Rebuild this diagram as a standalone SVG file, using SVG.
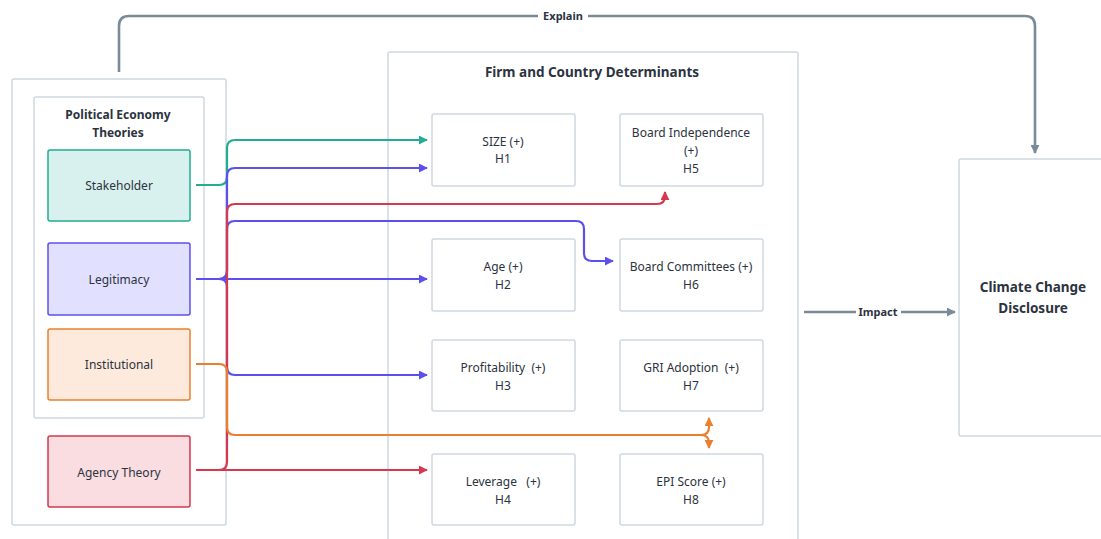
<svg xmlns="http://www.w3.org/2000/svg" width="1101" height="539" viewBox="0 0 1101 539">
<style>
text{font-family:"Noto Sans","Liberation Sans",sans-serif;fill:#2b3340;text-anchor:middle;white-space:pre}
.n{font-size:12px}
.b{font-size:12px;font-weight:bold}
.t{font-size:13.5px;font-weight:bold}
.lbl{font-size:11px;font-weight:bold}
.box{fill:#fff;stroke:#cfd8e1;stroke-width:1.5}
.c{fill:none;stroke-width:2.2}
.teal{stroke:#20ad93}
.pur{stroke:#5b50ee}
.red{stroke:#d5394f}
.ora{stroke:#e9802f}
.gray{fill:none;stroke:#7b8a98;stroke-width:2.6}
</style>
<defs>
<marker id="aT" viewBox="0 0 10 10" refX="9" refY="5" markerWidth="9" markerHeight="9" markerUnits="userSpaceOnUse" orient="auto"><path d="M0,0L10,5L0,10z" fill="#20ad93"/></marker>
<marker id="aP" viewBox="0 0 10 10" refX="9" refY="5" markerWidth="9" markerHeight="9" markerUnits="userSpaceOnUse" orient="auto"><path d="M0,0L10,5L0,10z" fill="#5b50ee"/></marker>
<marker id="aR" viewBox="0 0 10 10" refX="9" refY="5" markerWidth="9" markerHeight="9" markerUnits="userSpaceOnUse" orient="auto"><path d="M0,0L10,5L0,10z" fill="#d5394f"/></marker>
<marker id="aO" viewBox="0 0 10 10" refX="9" refY="5" markerWidth="9" markerHeight="9" markerUnits="userSpaceOnUse" orient="auto"><path d="M0,0L10,5L0,10z" fill="#e9802f"/></marker>
<marker id="aG" viewBox="0 0 10 10" refX="9" refY="5" markerWidth="9" markerHeight="9" markerUnits="userSpaceOnUse" orient="auto"><path d="M0,0L10,5L0,10z" fill="#7b8a98"/></marker>
</defs>
<rect width="1101" height="539" fill="#fff"/>

<g id="theories-outer"><rect class="box" x="12" y="79" width="214" height="446" rx="2"/></g>
<g id="political-economy"><rect class="box" x="34" y="97" width="170" height="321" rx="2"/>
<text class="b" x="118" y="119">Political Economy</text><text class="b" x="118" y="137">Theories</text></g>
<g id="stakeholder"><rect x="48" y="150" width="142" height="71" rx="2" fill="#d8f1ee" stroke="#20ad93" stroke-width="1.5"/><text class="n" x="119" y="190">Stakeholder</text></g>
<g id="legitimacy"><rect x="48" y="243" width="142" height="72" rx="2" fill="#e1e0fe" stroke="#5b50ee" stroke-width="1.5"/><text class="n" x="119" y="284">Legitimacy</text></g>
<g id="institutional"><rect x="48" y="329" width="142" height="71" rx="2" fill="#fdeadd" stroke="#e9802f" stroke-width="1.5"/><text class="n" x="119" y="369">Institutional</text></g>
<g id="agency"><rect x="48" y="436" width="142" height="71" rx="2" fill="#f9dde1" stroke="#d5394f" stroke-width="1.5"/><text class="n" x="119" y="477">Agency Theory</text></g>

<g id="determinants"><rect class="box" x="388" y="52" width="410" height="500" rx="2"/>
<text class="t" x="592" y="77">Firm and Country Determinants</text></g>
<g id="h1"><rect class="box" x="432" y="114" width="143" height="72" rx="2"/><text class="n" x="503" y="146">SIZE (+)</text><text class="n" x="503" y="163">H1</text></g>
<g id="h5"><rect class="box" x="620" y="114" width="143" height="72" rx="2"/><text class="n" x="691" y="137">Board Independence</text><text class="n" x="691" y="155">(+)</text><text class="n" x="691" y="173">H5</text></g>
<g id="h2"><rect class="box" x="432" y="239" width="143" height="72" rx="2"/><text class="n" x="503" y="271">Age (+)</text><text class="n" x="503" y="289">H2</text></g>
<g id="h6"><rect class="box" x="620" y="239" width="143" height="72" rx="2"/><text class="n" x="691" y="271">Board Committees (+)</text><text class="n" x="691" y="289">H6</text></g>
<g id="h3"><rect class="box" x="432" y="340" width="143" height="71" rx="2"/><text class="n" x="503" y="372">Profitability  (+)</text><text class="n" x="503" y="390">H3</text></g>
<g id="h7"><rect class="box" x="620" y="340" width="143" height="71" rx="2"/><text class="n" x="691" y="372">GRI Adoption  (+)</text><text class="n" x="691" y="390">H7</text></g>
<g id="h4"><rect class="box" x="432" y="454" width="143" height="71" rx="2"/><text class="n" x="503" y="486">Leverage   (+)</text><text class="n" x="503" y="504">H4</text></g>
<g id="h8"><rect class="box" x="620" y="454" width="143" height="71" rx="2"/><text class="n" x="691" y="486">EPI Score (+)</text><text class="n" x="691" y="504">H8</text></g>

<g id="climate"><rect class="box" x="959" y="159" width="160" height="277" rx="2"/>
<text class="t" x="1033" y="292">Climate Change</text><text class="t" x="1033" y="313">Disclosure</text></g>

<g id="connectors">
<path class="gray" d="M119,72V26Q119,16 129,16H1025Q1035,16 1035,26V153" marker-end="url(#aG)"/>
<rect x="538" y="8" width="50" height="16" fill="#fff"/>
<text class="lbl" x="563" y="20">Explain</text>
<path class="gray" d="M804,312H955" marker-end="url(#aG)"/>
<rect x="856" y="304" width="45" height="16" fill="#fff"/>
<text class="lbl" x="878" y="316">Impact</text>

<path class="c teal" d="M196,185H219Q227,185 227,177V148Q227,140 235,140H427" marker-end="url(#aT)"/>
<path class="c pur" d="M196,279H427" marker-end="url(#aP)"/>
<path class="c pur" d="M219,279Q227,279 227,271V176Q227,168 235,168H427" marker-end="url(#aP)"/>
<path class="c pur" d="M219,279Q227,279 227,271V229Q227,221 235,221H576Q584,221 584,229V253Q584,261 592,261H613" marker-end="url(#aP)"/>
<path class="c pur" d="M219,279Q227,279 227,287V367Q227,375 235,375H427" marker-end="url(#aP)"/>
<path class="c red" d="M196,470H427" marker-end="url(#aR)"/>
<path class="c red" d="M196,470H219Q227,470 227,462V212Q227,204 235,204H657Q665,204 665,196V192" marker-end="url(#aR)"/>
<path class="c ora" d="M196,364H219Q227,364 227,372V427Q227,435 235,435H701Q709,435 709,427V418" marker-end="url(#aO)"/>
<path class="c ora" d="M701,435Q709,435 709,443V448" marker-end="url(#aO)"/>
</g>
</svg>
